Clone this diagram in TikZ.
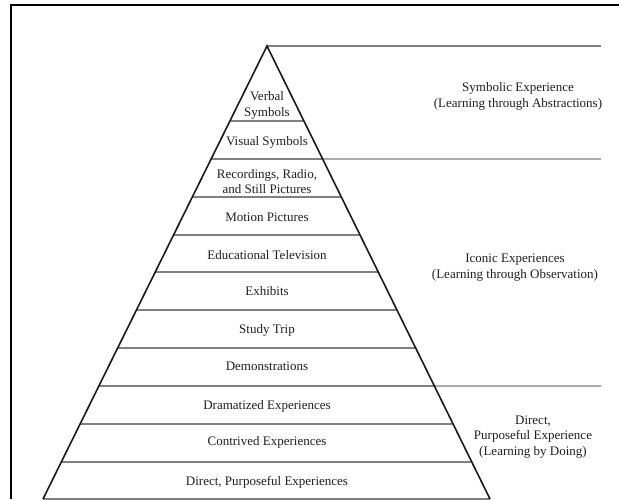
\documentclass[tikz,border=0pt]{standalone}
\usepackage{fontspec}
\setmainfont{Liberation Serif}
\usetikzlibrary{calc}
\begin{document}
\begin{tikzpicture}[x=1pt,y=-1pt,
  frame/.style={line width=2pt,black},
  edge/.style={line width=1.6pt,black!90},
  sep/.style={line width=1.1pt,black!50},
  band/.style={font=\fontsize{13}{15.5}\selectfont,text=black!88,align=center,inner sep=0pt,text height=0.7em,text depth=0.2em},
  lab/.style={font=\fontsize{13}{15.5}\selectfont,text=black!88,align=center,inner sep=0pt}]
\useasboundingbox (0,0) rectangle (619,499);
\fill[white] (0,0) rectangle (619,499);
% frame
\draw[frame] (11,499) -- (11,4.5) -- (619,4.5);
% pyramid geometry
\coordinate (A) at (267,46);
\coordinate (BL) at (43,499);
\coordinate (BR) at (490,499);
% separators
\foreach \yy in {121,159,197,235,272,310,348,386,424,462}{
  \pgfmathsetmacro\tt{(\yy-46)/453}
  \draw[sep] ($(A)!\tt!(BL)$) -- ($(A)!\tt!(BR)$);
}
\draw[sep] (BL) -- (BR);
% extended gray lines to the right
\coordinate (E1) at (601,46);
\coordinate (E2) at (601,159);
\coordinate (E3) at (601,386);
\draw[sep] (A) -- (E1);
\draw[sep] ($(A)!{(159-46)/453}!(BR)$) -- (E2);
\draw[sep] ($(A)!{(386-46)/453}!(BR)$) -- (E3);
% triangle edges
\draw[edge] (BL) -- (A) -- (BR);
% band labels
\node[lab] (t1) at (267,105.5) {Verbal\\Symbols};
\node[band] (t2) at (267,143) {Visual Symbols};
\node[lab] (t3) at (267,181.5) {Recordings, Radio,\\and Still Pictures};
\node[band] (t4) at (267,219) {Motion Pictures};
\node[band] (t5) at (267,256.5) {Educational Television};
\node[band] (t6) at (267,292.5) {Exhibits};
\node[band] (t7) at (267,331) {Study Trip};
\node[band] (t8) at (267,367.5) {Demonstrations};
\node[band] (t9) at (267,406.5) {Dramatized Experiences};
\node[band] (t10) at (267,443) {Contrived Experiences};
\node[band] (t11) at (267,483) {Direct, Purposeful Experiences};
% right labels
\node[lab] (r1) at (518,96.5) {Symbolic Experience\\(Learning through Abstractions)};
\node[lab] (r2) at (515,267.5) {Iconic Experiences\\(Learning through Observation)};
\node[lab] (r3) at (533,437) {Direct,\\Purposeful Experience\\(Learning by Doing)};
\end{tikzpicture}
\end{document}
